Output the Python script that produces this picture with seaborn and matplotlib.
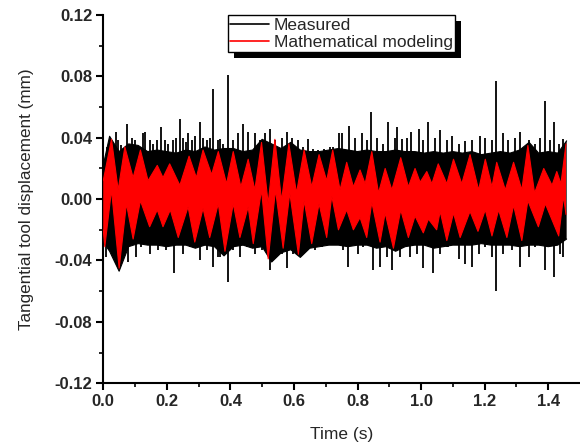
# Tangential tool displacement: measured vs mathematical model
import numpy as np
import matplotlib
matplotlib.use("Agg")
import matplotlib.pyplot as plt
from matplotlib.lines import Line2D
from matplotlib.patches import Rectangle
import seaborn as sns

# -------------------------------------------------------------
# DATA
# -------------------------------------------------------------

# measured signal: solid band (upper / lower edge)
black_t = [0.000, 0.020, 0.050, 0.080, 0.110, 0.140, 0.170, 0.200, 0.230, 0.260,
           0.290, 0.320, 0.350, 0.380, 0.410, 0.440, 0.470, 0.500, 0.530, 0.560,
           0.590, 0.620, 0.650, 0.680, 0.710, 0.740, 0.770, 0.800, 0.830, 0.860,
           0.890, 0.920, 0.950, 0.980, 1.010, 1.040, 1.070, 1.100, 1.130, 1.160,
           1.190, 1.220, 1.250, 1.280, 1.310, 1.340, 1.370, 1.400, 1.430, 1.458]
black_up = [0.022, 0.041, 0.031, 0.036, 0.035, 0.031, 0.032, 0.031, 0.030, 0.032,
            0.031, 0.034, 0.032, 0.033, 0.033, 0.031, 0.032, 0.039, 0.036, 0.033,
            0.037, 0.032, 0.031, 0.031, 0.032, 0.033, 0.032, 0.031, 0.032, 0.031,
            0.031, 0.032, 0.031, 0.031, 0.030, 0.031, 0.030, 0.031, 0.030, 0.031,
            0.029, 0.030, 0.031, 0.030, 0.032, 0.037, 0.030, 0.031, 0.030, 0.038]
black_lo = [-0.028, -0.034, -0.047, -0.031, -0.029, -0.030, -0.030, -0.031, -0.030, -0.030,
            -0.032, -0.030, -0.031, -0.037, -0.031, -0.030, -0.032, -0.031, -0.041, -0.035,
            -0.033, -0.038, -0.032, -0.031, -0.030, -0.030, -0.031, -0.030, -0.030, -0.032,
            -0.031, -0.034, -0.031, -0.030, -0.030, -0.032, -0.031, -0.030, -0.030, -0.030,
            -0.029, -0.030, -0.030, -0.030, -0.031, -0.030, -0.030, -0.031, -0.030, -0.026]

# measured signal: peaks above the band
spike_up_t = [0.012, 0.031, 0.039, 0.047, 0.057, 0.076, 0.089, 0.099, 0.110, 0.125,
              0.131, 0.146, 0.157, 0.170, 0.183, 0.194, 0.204, 0.218, 0.228, 0.241,
              0.251, 0.260, 0.267, 0.278, 0.288, 0.304, 0.314, 0.325, 0.335, 0.346,
              0.362, 0.367, 0.378, 0.393, 0.409, 0.425, 0.440, 0.456, 0.477, 0.493,
              0.509, 0.524, 0.540, 0.561, 0.577, 0.593, 0.614, 0.630, 0.645, 0.661,
              0.677, 0.693, 0.714, 0.724, 0.743, 0.750, 0.774, 0.792, 0.813, 0.829,
              0.843, 0.861, 0.881, 0.897, 0.918, 0.923, 0.939, 0.955, 0.969, 0.992,
              1.007, 1.023, 1.044, 1.060, 1.081, 1.097, 1.118, 1.139, 1.160, 1.186,
              1.202, 1.223, 1.236, 1.259, 1.275, 1.296, 1.310, 1.338, 1.359, 1.375,
              1.391, 1.407, 1.417, 1.433, 1.448]
spike_up_v = [0.034, 0.035, 0.044, 0.0385, 0.035, 0.049, 0.040, 0.0385, 0.034, 0.043,
              0.044, 0.0385, 0.036, 0.0385, 0.047, 0.0385, 0.036, 0.0385, 0.040, 0.052,
              0.040, 0.037, 0.043, 0.0385, 0.041, 0.050, 0.040, 0.0385, 0.040, 0.072,
              0.0385, 0.039, 0.036, 0.081, 0.0385, 0.043, 0.049, 0.044, 0.043, 0.0385,
              0.043, 0.046, 0.0385, 0.040, 0.044, 0.040, 0.0385, 0.034, 0.039, 0.033,
              0.032, 0.033, 0.034, 0.034, 0.043, 0.043, 0.048, 0.040, 0.043, 0.0385,
              0.057, 0.040, 0.036, 0.050, 0.040, 0.047, 0.039, 0.040, 0.044, 0.046,
              0.0385, 0.050, 0.040, 0.045, 0.0385, 0.041, 0.036, 0.038, 0.0385, 0.041,
              0.040, 0.0385, 0.077, 0.043, 0.0385, 0.040, 0.044, 0.0385, 0.036, 0.040,
              0.064, 0.0385, 0.050, 0.036, 0.039]

# measured signal: peaks below the band
spike_lo_t = [0.010, 0.031, 0.062, 0.078, 0.104, 0.120, 0.146, 0.173, 0.199, 0.222,
              0.251, 0.272, 0.304, 0.325, 0.346, 0.362, 0.367, 0.378, 0.391, 0.409,
              0.430, 0.451, 0.477, 0.498, 0.524, 0.545, 0.561, 0.577, 0.598, 0.619,
              0.640, 0.666, 0.687, 0.708, 0.724, 0.755, 0.771, 0.803, 0.818, 0.848,
              0.871, 0.892, 0.908, 0.934, 0.965, 0.986, 1.007, 1.039, 1.060, 1.081,
              1.086, 1.118, 1.139, 1.160, 1.181, 1.202, 1.223, 1.236, 1.259, 1.285,
              1.310, 1.338, 1.359, 1.391, 1.417, 1.438, 1.448]
spike_lo_v = [-0.038, -0.031, -0.033, -0.041, -0.038, -0.031, -0.036, -0.033, -0.033, -0.048,
              -0.0355, -0.031, -0.040, -0.033, -0.044, -0.038, -0.038, -0.031, -0.054, -0.033,
              -0.038, -0.031, -0.0355, -0.033, -0.046, -0.038, -0.0355, -0.045, -0.0355, -0.035,
              -0.031, -0.033, -0.031, -0.030, -0.029, -0.033, -0.044, -0.0355, -0.031, -0.046,
              -0.044, -0.038, -0.046, -0.038, -0.038, -0.0355, -0.045, -0.048, -0.0355, -0.031,
              -0.031, -0.039, -0.042, -0.044, -0.0355, -0.031, -0.038, -0.060, -0.0355, -0.033,
              -0.044, -0.038, -0.031, -0.046, -0.051, -0.0355, -0.038]

# mathematical model: upper edge (lobe peaks and valleys)
red_up_t = [0.000, 0.026, 0.047, 0.068, 0.094, 0.117, 0.141, 0.170, 0.188, 0.209,
            0.241, 0.270, 0.293, 0.314, 0.341, 0.362, 0.388, 0.409, 0.433, 0.456,
            0.477, 0.498, 0.519, 0.540, 0.561, 0.584, 0.608, 0.632, 0.656, 0.679,
            0.703, 0.722, 0.745, 0.766, 0.787, 0.808, 0.824, 0.845, 0.866, 0.887,
            0.908, 0.936, 0.960, 0.981, 0.997, 1.018, 1.034, 1.054, 1.081, 1.102,
            1.128, 1.154, 1.181, 1.202, 1.223, 1.238, 1.265, 1.291, 1.317, 1.336,
            1.357, 1.386, 1.412, 1.427, 1.440, 1.456]
red_up_v = [0.012, 0.039, 0.006, 0.034, 0.014, 0.032, 0.012, 0.022, 0.014, 0.023,
            0.009, 0.028, 0.014, 0.032, 0.016, 0.031, 0.010, 0.031, 0.008, 0.026,
            0.006, 0.037, -0.003, 0.039, -0.001, 0.036, 0.004, 0.032, 0.008, 0.029,
            0.012, 0.032, 0.006, 0.024, 0.008, 0.019, 0.010, 0.031, 0.004, 0.020,
            0.006, 0.027, 0.008, 0.020, 0.011, 0.018, 0.010, 0.023, 0.010, 0.026,
            0.010, 0.029, 0.006, 0.026, 0.008, 0.024, 0.006, 0.024, 0.006, 0.035,
            0.004, 0.020, 0.009, 0.018, 0.010, 0.036]

# mathematical model: lower edge (lobe troughs and crests)
red_lo_t = [0.000, 0.005, 0.026, 0.050, 0.073, 0.094, 0.117, 0.146, 0.170, 0.188,
            0.211, 0.236, 0.267, 0.288, 0.314, 0.335, 0.362, 0.383, 0.409, 0.430,
            0.456, 0.472, 0.498, 0.519, 0.542, 0.566, 0.587, 0.614, 0.632, 0.656,
            0.679, 0.703, 0.719, 0.740, 0.766, 0.787, 0.808, 0.829, 0.845, 0.871,
            0.887, 0.913, 0.936, 0.960, 0.981, 1.007, 1.023, 1.049, 1.060, 1.081,
            1.102, 1.123, 1.154, 1.179, 1.202, 1.223, 1.244, 1.270, 1.291, 1.317,
            1.336, 1.369, 1.391, 1.433, 1.448, 1.456]
red_lo_v = [-0.020, -0.031, 0.006, -0.045, -0.003, -0.026, -0.001, -0.018, -0.007, -0.018,
            -0.007, -0.025, -0.005, -0.028, -0.006, -0.025, -0.003, -0.034, -0.003, -0.025,
            -0.005, -0.029, 0.006, -0.039, 0.006, -0.032, 0.004, -0.036, -0.001, -0.029,
            -0.003, -0.025, 0.002, -0.020, -0.007, -0.020, -0.012, -0.025, -0.002, -0.028,
            -0.009, -0.032, -0.007, -0.025, -0.011, -0.022, -0.013, -0.020, -0.008, -0.027,
            -0.009, -0.025, -0.008, -0.021, -0.007, -0.024, -0.007, -0.025, -0.004, -0.027,
            -0.001, -0.018, -0.003, -0.024, 0.002, -0.010]

ETIQUETAS = ["Measured", "Mathematical modeling"]
COLORES = {"measured": "black", "model": "#FF0000"}

# -------------------------------------------------------------
# FIGURE
# -------------------------------------------------------------

sns.set_theme(style="ticks")
plt.rcParams["font.family"] = ["Liberation Sans", "DejaVu Sans"]

fig = plt.figure(figsize=(5.8, 4.43), dpi=100)
ax = fig.add_axes([0.178, 0.135, 0.822, 0.831])

# measured band + peaks
ax.fill(np.concatenate([black_t, black_t[::-1]]),
        np.concatenate([black_up, black_lo[::-1]]),
        color=COLORES["measured"], lw=0, zorder=2)
sns.lineplot(x=black_t, y=black_up, color=COLORES["measured"], lw=0.8, ax=ax, zorder=2)
sns.lineplot(x=black_t, y=black_lo, color=COLORES["measured"], lw=0.8, ax=ax, zorder=2)
ax.vlines(spike_up_t, 0, spike_up_v, color=COLORES["measured"], lw=1.3, zorder=2)
ax.vlines(spike_lo_t, 0, spike_lo_v, color=COLORES["measured"], lw=1.3, zorder=2)

# model band
ax.fill(np.concatenate([red_up_t, red_lo_t[::-1]]),
        np.concatenate([red_up_v, red_lo_v[::-1]]),
        color=COLORES["model"], lw=0, zorder=3)
sns.lineplot(x=red_up_t, y=red_up_v, color=COLORES["model"], lw=0.8, ax=ax, zorder=3)
sns.lineplot(x=red_lo_t, y=red_lo_v, color=COLORES["model"], lw=0.8, ax=ax, zorder=3)

# axes
ax.set_xlim(0, 1.5)
ax.set_ylim(-0.12, 0.12)
ax.set_xticks([0.0, 0.2, 0.4, 0.6, 0.8, 1.0, 1.2, 1.4])
ax.set_xticks(np.arange(0.1, 1.5, 0.2), minor=True)
ax.set_yticks([-0.12, -0.08, -0.04, 0.0, 0.04, 0.08, 0.12])
ax.set_yticks([-0.10, -0.06, -0.02, 0.02, 0.06, 0.10], minor=True)
ax.set_xticklabels(["0.0", "0.2", "0.4", "0.6", "0.8", "1.0", "1.2", "1.4"])
ax.set_yticklabels(["-0.12", "-0.08", "-0.04", "0.00", "0.04", "0.08", "0.12"])

for s in ["top", "right"]:
    ax.spines[s].set_visible(False)
for s in ["left", "bottom"]:
    ax.spines[s].set_color("black")
    ax.spines[s].set_linewidth(1.5)

ax.tick_params(which="major", direction="out", length=5, width=1.5, color="black",
               labelsize=12, pad=3)
ax.tick_params(which="minor", direction="out", length=3, width=1.2, color="black")
for lab in ax.get_xticklabels() + ax.get_yticklabels():
    lab.set_fontweight("bold")

ax.set_xlabel("Time (s)", fontsize=12.5, labelpad=13)
ax.set_ylabel("Tangential tool displacement (mm)", fontsize=12.3, labelpad=15)
ax.grid(False)
ax.set_facecolor("white")

# legend (Origin style, black drop shadow)
handles = [Line2D([], [], color=COLORES["measured"], lw=1.2),
           Line2D([], [], color=COLORES["model"], lw=1.2)]
leg = ax.legend(handles, ETIQUETAS, loc="upper center", bbox_to_anchor=(0.5, 1.0),
                fontsize=12.5, frameon=True, fancybox=False, edgecolor="black",
                framealpha=1, handlelength=2.2, handletextpad=0.3,
                borderpad=0.15, labelspacing=0.1, borderaxespad=0.0)
leg.get_frame().set_linewidth(1.0)
leg.set_zorder(10)

fig.canvas.draw()
bb = leg.get_window_extent()
sombra = Rectangle((bb.x0 + 6, bb.y0 - 6), bb.width, bb.height, transform=None,
                   facecolor="black", edgecolor="none", clip_on=False, zorder=9)
ax.add_artist(sombra)

plt.savefig("out.png", dpi=100)
plt.close()
